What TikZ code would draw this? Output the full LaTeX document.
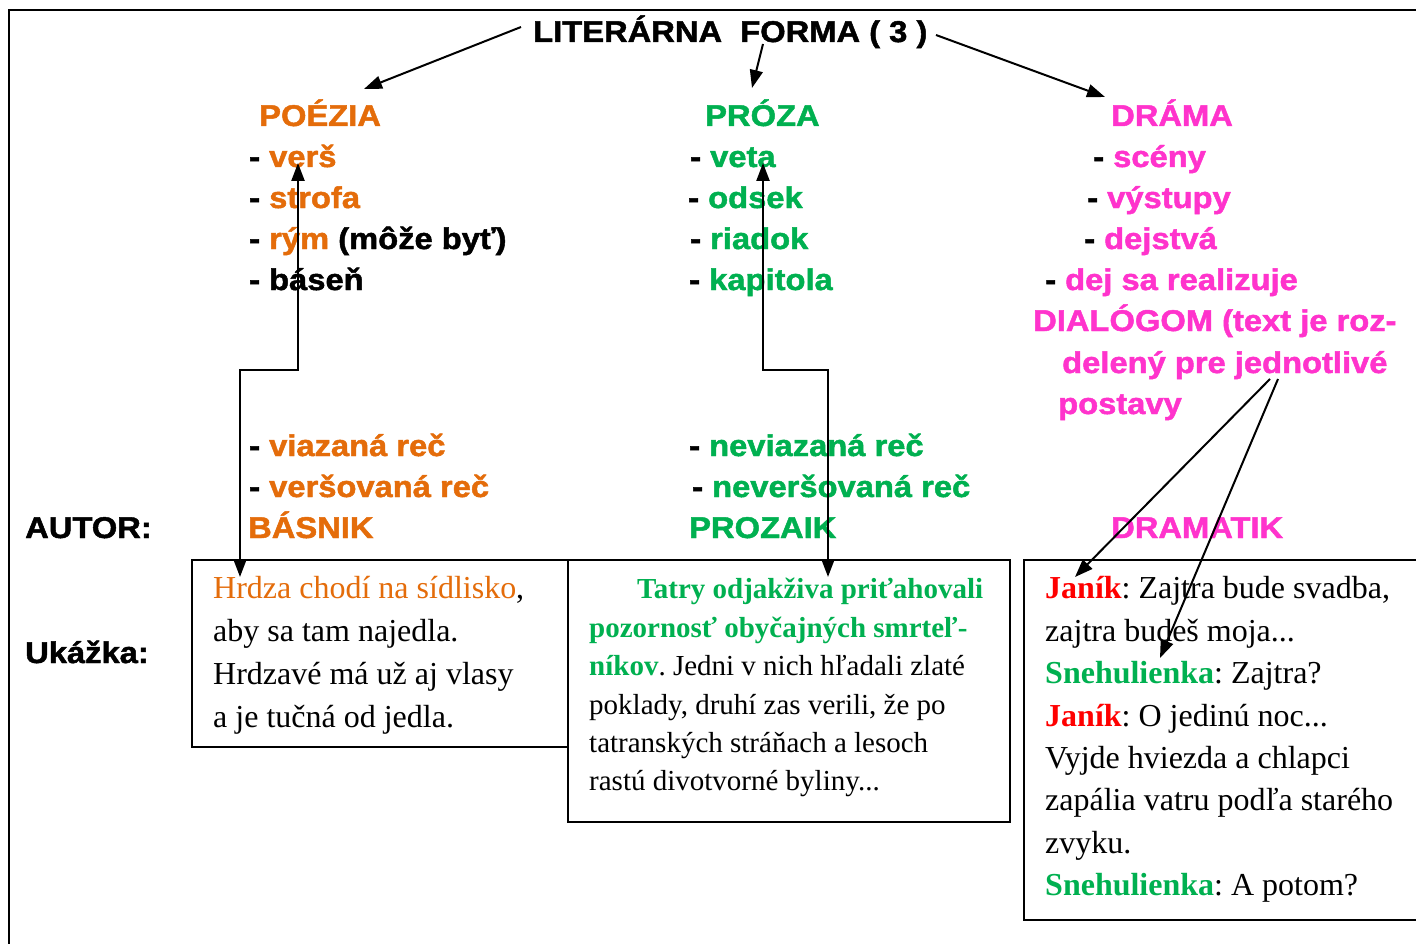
\documentclass[tikz,border=0pt]{standalone}
\usepackage{fontspec}
\setmainfont{Liberation Serif}
\newfontfamily\hsans[FakeStretch=1.09,FakeBold=1.6]{Liberation Sans}
\usetikzlibrary{arrows.meta}
\definecolor{cor}{RGB}{228,108,10}
\definecolor{cgr}{RGB}{0,176,80}
\definecolor{cmg}{RGB}{255,51,204}
\definecolor{crd}{RGB}{255,0,0}
\tikzset{
 sn/.style={anchor=base west, inner sep=0pt, font=\hsans\bfseries\fontsize{30}{36}\selectfont},
 sr/.style={anchor=base west, inner sep=0pt, font=\frenchspacing\fontsize{32}{38}\selectfont},
 srs/.style={anchor=base west, inner sep=0pt, font=\frenchspacing\fontsize{29}{35}\selectfont},
 arr/.style={line width=2pt, -{Triangle[length=18pt,width=13pt]}},
 darr/.style={line width=2.4pt, {Triangle[length=18pt,width=13pt]}-{Triangle[length=18pt,width=13pt]}},
 frm/.style={line width=2pt},
 bx/.style={line width=2pt},
}
\begin{document}
\begin{tikzpicture}[x=1pt,y=-1pt]
\useasboundingbox (0,0) rectangle (1416,944);
\fill[white] (0,0) rectangle (1416,944);
% frame
\draw[frm] (9,960) -- (9,10) -- (1430,10);
% title
\node[sn] (title) at (533,42) {LITERÁRNA\ \ FORMA ( 3 )};
% headers
\node[sn,text=cor] (poe) at (259,126) {POÉZIA};
\node[sn,text=cgr] (pro) at (705,126) {PRÓZA};
\node[sn,text=cmg] (dra) at (1111,126) {DRÁMA};
% poetry list
\node[sn] (p1) at (249,167) {- \textcolor{cor}{verš}};
\node[sn] (p2) at (249,208) {- \textcolor{cor}{strofa}};
\node[sn] (p3) at (249,249) {- \textcolor{cor}{rým} (môže byť)};
\node[sn] (p4) at (249,290) {- báseň};
% prose list
\node[sn] (r1) at (690,167) {- \textcolor{cgr}{veta}};
\node[sn] (r2) at (688,208) {- \textcolor{cgr}{odsek}};
\node[sn] (r3) at (690,249) {- \textcolor{cgr}{riadok}};
\node[sn] (r4) at (689,290) {- \textcolor{cgr}{kapitola}};
% drama list
\node[sn] (d1) at (1093,167) {- \textcolor{cmg}{scény}};
\node[sn] (d2) at (1087,208) {- \textcolor{cmg}{výstupy}};
\node[sn] (d3) at (1084,249) {- \textcolor{cmg}{dejstvá}};
\node[sn] (d4) at (1045,290) {- \textcolor{cmg}{dej sa realizuje}};
\node[sn,text=cmg] (d5) at (1033,331) {DIALÓGOM (text je roz-};
\node[sn,text=cmg] (d6) at (1062,373) {delený pre jednotlivé};
\node[sn,text=cmg] (d7) at (1058,414) {postavy};
% lower lists
\node[sn] (v1) at (249,456) {- \textcolor{cor}{viazaná reč}};
\node[sn] (v2) at (249,497) {- \textcolor{cor}{veršovaná reč}};
\node[sn,text=cor] (bas) at (248,538) {BÁSNIK};
\node[sn] (n1) at (689,456) {- \textcolor{cgr}{neviazaná reč}};
\node[sn] (n2) at (692,497) {- \textcolor{cgr}{neveršovaná reč}};
\node[sn,text=cgr] (proz) at (689,538) {PROZAIK};
\node[sn,text=cmg] (dram) at (1111,538) {DRAMATIK};
\node[sn] (aut) at (25,538) {AUTOR:};
\node[sn] (uk) at (25,663) {Ukážka:};
% boxes
\draw[bx] (192,560) rectangle (568,747);
\draw[bx] (568,560) rectangle (1010,822);
\draw[bx] (1024,560) rectangle (1430,920);
% box 1
\node[sr] (b11) at (213,598) {\textcolor{cor}{Hrdza chodí na sídlisko},};
\node[sr] (b12) at (213,641) {aby sa tam najedla.};
\node[sr] (b13) at (213,684) {Hrdzavé má už aj vlasy};
\node[sr] (b14) at (213,727) {a je tučná od jedla.};
% box 2
\node[srs] (b21) at (637,598) {\textcolor{cgr}{\bfseries Tatry odjakživa priťahovali}};
\node[srs] (b22) at (589,637) {\textcolor{cgr}{\bfseries pozornosť obyčajných smrteľ-}};
\node[srs] (b23) at (589,675) {\textcolor{cgr}{\bfseries níkov}. Jedni v nich hľadali zlaté};
\node[srs] (b24) at (589,714) {poklady, druhí zas verili, že po};
\node[srs] (b25) at (589,752) {tatranských stráňach a lesoch};
\node[srs] (b26) at (589,790) {rastú divotvorné byliny...};
% box 3
\node[sr] (b31) at (1045,598) {\textcolor{crd}{\bfseries Janík}: Zajtra bude svadba,};
\node[sr] (b32) at (1045,641) {zajtra budeš moja...};
\node[sr] (b33) at (1045,683) {\textcolor{cgr}{\bfseries Snehulienka}: Zajtra?};
\node[sr] (b34) at (1045,726) {\textcolor{crd}{\bfseries Janík}: O jedinú noc...};
\node[sr] (b35) at (1045,768) {Vyjde hviezda a chlapci};
\node[sr] (b36) at (1045,810) {zapália vatru podľa starého};
\node[sr] (b37) at (1045,853) {zvyku.};
\node[sr] (b38) at (1045,895) {\textcolor{cgr}{\bfseries Snehulienka}: A potom?};
% arrow endpoints
\coordinate (t1) at (521,27);
\coordinate (t1e) at (364,89);
\coordinate (t2) at (763,44);
\coordinate (t2e) at (752,88);
\coordinate (t3) at (936,35);
\coordinate (t3e) at (1105,97);
\coordinate (pa) at (298,163);
\coordinate (pb) at (240,577);
\coordinate (ra) at (763,163);
\coordinate (rb) at (828,577);
\coordinate (ds1) at (1270,379);
\coordinate (de1) at (1075,577);
\coordinate (ds2) at (1278,379);
\coordinate (de2) at (1160,658);
% arrows
\draw[arr] (t1) -- (t1e);
\draw[arr] (t2) -- (t2e);
\draw[arr] (t3) -- (t3e);
\draw[darr] (pa) -- ++(0,207) -| (pb);
\draw[darr] (ra) -- ++(0,207) -| (rb);
\draw[arr] (ds1) -- (de1);
\draw[arr] (ds2) -- (de2);
\end{tikzpicture}
\end{document}
